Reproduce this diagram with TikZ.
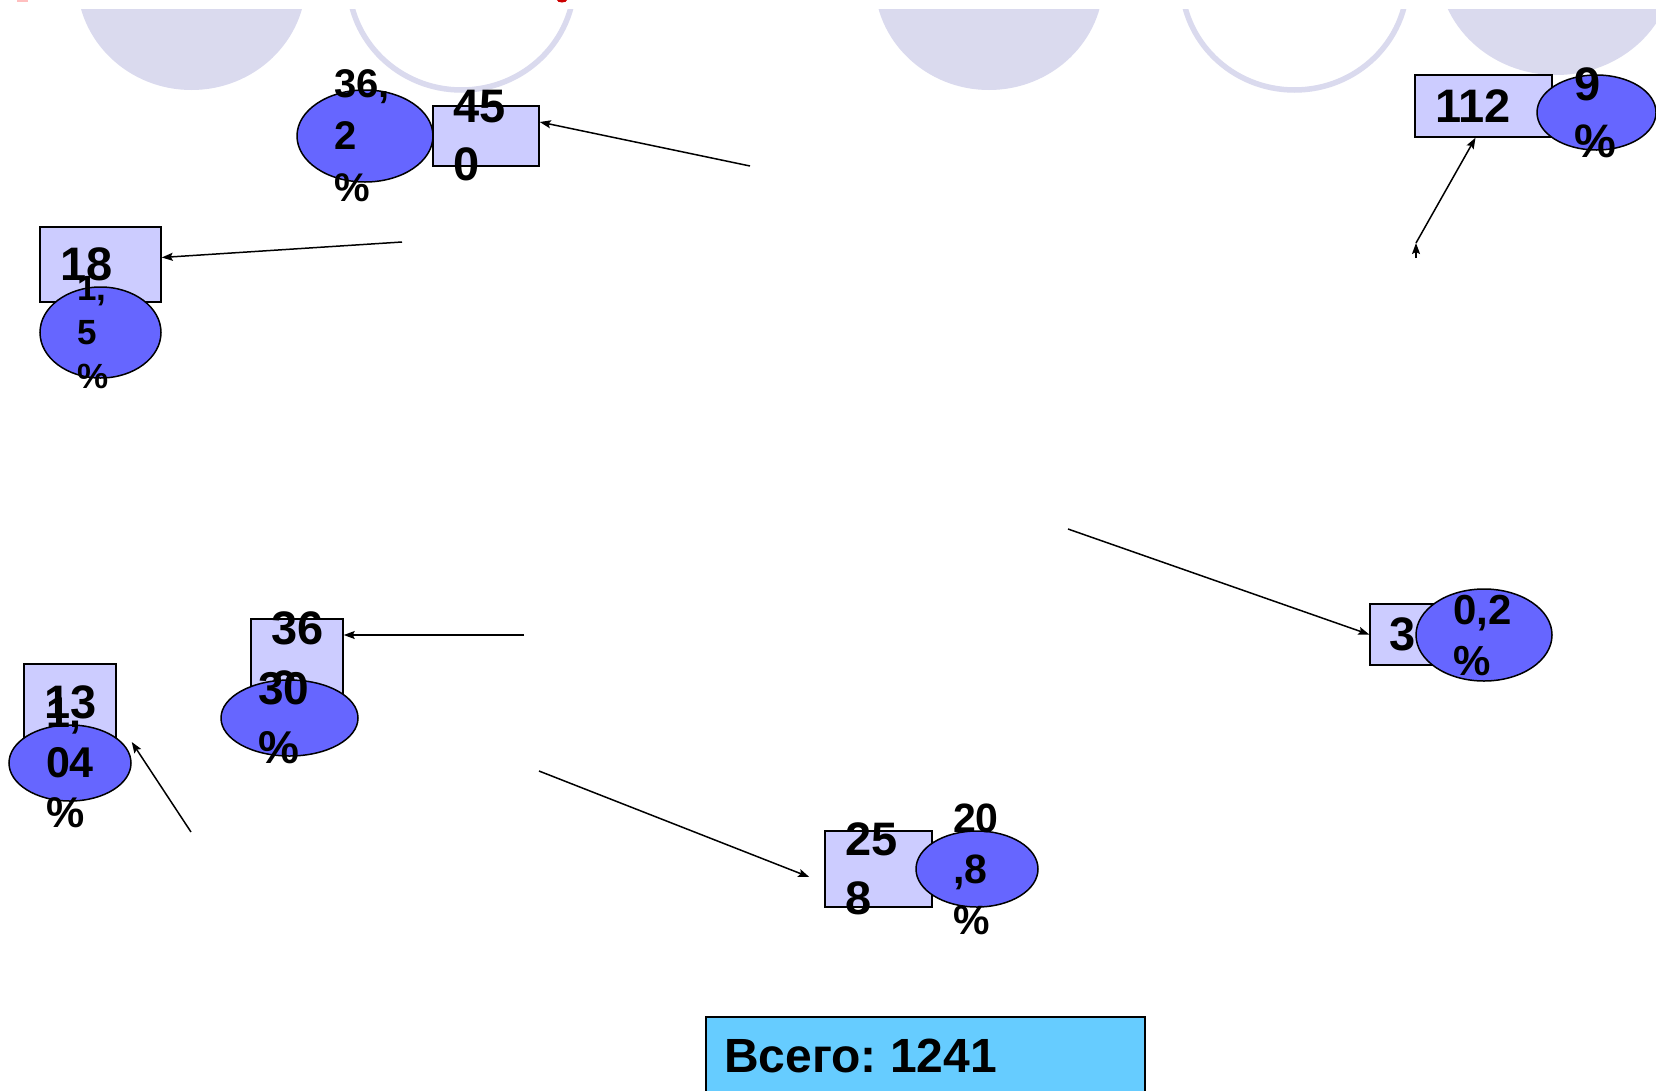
\documentclass[tikz,border=0pt]{standalone}
\usepackage{fontspec}
\setmainfont{Liberation Sans}
\usetikzlibrary{arrows.meta,shapes.geometric,calc}
\definecolor{bgell}{RGB}{218,218,238}
\definecolor{boxfill}{RGB}{204,204,255}
\definecolor{ellfill}{RGB}{102,102,255}
\definecolor{totfill}{RGB}{102,204,255}
\frenchspacing
\begin{document}
\begin{tikzpicture}[x=1pt,y=-1pt,
  boxsh/.style={draw=black,line width=1.5pt,fill=boxfill,rectangle,inner sep=0pt},
  ellsh/.style={draw=black,line width=1.5pt,fill=ellfill,ellipse,inner sep=0pt},
  valtxt/.style={font=\bfseries\fontsize{47}{58}\selectfont,align=left,inner sep=0pt,text=black},
  arr/.style={line width=1.5pt,draw=black,-{Stealth[length=11pt,width=8pt,inset=2pt]}},
  bgfill/.style={fill=bgell},
  bgring/.style={draw=bgell,line width=5.5pt}]
\useasboundingbox (0,0) rectangle (1656,1090);
\fill[white] (0,0) rectangle (1656,1090);
% cut-off title fragments
\fill[red!25] (17,0) rectangle (28,1.5);
\fill[red!80!black] (562,0) ellipse [x radius=5, y radius=2.5];
% background decoration
\begin{scope}
\clip (0,9) rectangle (1656,200);
\path[bgfill] (191.5,-20) ellipse [x radius=114.5, y radius=110];
\path[bgring] (461.5,-20) ellipse [x radius=113, y radius=110];
\path[bgfill] (989,-20) ellipse [x radius=114.5, y radius=110];
\path[bgring] (1294.5,-20) ellipse [x radius=113, y radius=110];
\path[bgfill] (1556,-35) ellipse [x radius=118, y radius=110];
\end{scope}
% 450 / 36,2 %
\node[boxsh,minimum width=106pt,minimum height=60pt] (b450) at (486,136) {};
\node[valtxt,text width=66pt] (t450) at (b450.center) {45\\0};
\node[ellsh,minimum width=136pt,minimum height=92pt] (e362) at (365,136) {};
\node[valtxt,font=\bfseries\fontsize{40}{52}\selectfont,text width=62pt] (p362) at (e362.center) {36,\\2\\\%};
% 18 / 1,5 %
\node[boxsh,minimum width=121pt,minimum height=75pt] (b18) at (100.5,264.5) {};
\node[valtxt,text width=81pt] (t18) at (b18.center) {18};
\node[ellsh,minimum width=121pt,minimum height=91pt] (e15) at (100.5,332.5) {};
\node[valtxt,font=\bfseries\fontsize{35}{44}\selectfont,text width=47pt] (p15) at (e15.center) {1,\\5\\\%};
% 112 / 9 %
\node[boxsh,minimum width=137pt,minimum height=62pt] (b112) at (1483.5,106) {};
\node[valtxt,text width=97pt] (t112) at (b112.center) {112};
\node[ellsh,minimum width=119pt,minimum height=75pt] (e9) at (1596.5,112.5) {};
\node[valtxt,font=\bfseries\fontsize{47}{57}\selectfont,text width=45pt] (p9) at (e9.center) {9\\\%};
% 3 / 0,2 %
\node[boxsh,minimum width=66pt,minimum height=61pt] (b3) at (1403,634.5) {};
\node[valtxt,text width=27pt] (t3) at (b3.center) {3};
\node[ellsh,minimum width=136pt,minimum height=92pt] (e02) at (1484,635) {};
\node[valtxt,font=\bfseries\fontsize{42}{51}\selectfont,text width=62pt] (p02) at (e02.center) {0,2\\\%};
% 258 / 20,8 %
\node[boxsh,minimum width=107pt,minimum height=76pt] (b258) at (878.5,869) {};
\node[valtxt,font=\bfseries\fontsize{47}{59}\selectfont,text width=67pt] (t258) at (b258.center) {25\\8};
\node[ellsh,minimum width=122pt,minimum height=76pt] (e208) at (977,869) {};
\node[valtxt,font=\bfseries\fontsize{41}{51}\selectfont,text width=48pt] (p208) at (e208.center) {20\\,8\\\%};
% 36 / 30 %
\node[boxsh,minimum width=92pt,minimum height=78pt] (b36) at (297,658) {};
\node[valtxt,font=\bfseries\fontsize{47}{59}\selectfont,text width=52pt] (t36) at (b36.center) {36\\0};
\node[ellsh,minimum width=137pt,minimum height=76pt] (e30) at (289.5,718) {};
\node[valtxt,font=\bfseries\fontsize{46}{59}\selectfont,text width=63pt] (p30) at (e30.center) {30\\\%};
% 13 / 1,04 %
\node[boxsh,minimum width=92pt,minimum height=76pt] (b13) at (70,702) {};
\node[valtxt,text width=52pt] (t13) at (b13.center) {13};
\node[ellsh,minimum width=122pt,minimum height=76pt] (e104) at (70,763) {};
\node[valtxt,font=\bfseries\fontsize{43}{50}\selectfont,text width=48pt] (p104) at (e104.center) {1,\\04\\\%};
% total
\node[draw=black,line width=2pt,fill=totfill,minimum width=439pt,minimum height=80pt,anchor=north west,inner sep=0pt] (tot) at (705,1016) {};
\node[font=\bfseries\fontsize{48}{58}\selectfont,anchor=base west,inner sep=0pt] (ttot) at (724,1072) {Всего: 1241};
% connectors
\coordinate (s450) at (750,166);
\draw[arr] (s450) -- ([yshift=14pt]b450.east);
\coordinate (s18) at (402,242);
\draw[arr] (s18) -- ([yshift=7pt]b18.east);
\coordinate (s112a) at (1416,258);
\coordinate (s112b) at (1416,243);
\draw[arr] (s112a) -- (s112b);
\draw[arr] (s112b) -- ([xshift=-8pt]b112.south);
\coordinate (s3) at (1068,529);
\draw[arr] (s3) -- (b3.west);
\coordinate (s258) at (539,771);
\draw[arr] (s258) -- ([xshift=-15pt,yshift=-8pt]b258.west);
\coordinate (s36) at (524,635);
\draw[arr] (s36) -- ([yshift=23pt]b36.east);
\coordinate (s13) at (191,832);
\draw[arr] (s13) -- ([yshift=21pt]e104.east);
\end{tikzpicture}
\end{document}
